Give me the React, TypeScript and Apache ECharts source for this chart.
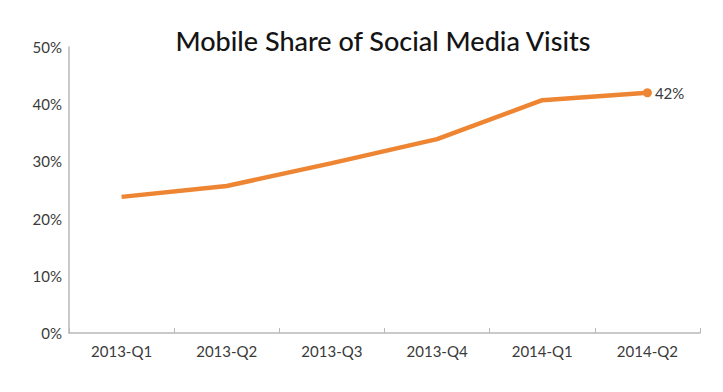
import React, { useEffect, useRef } from "react";
import * as echarts from "echarts";

const categories = ["2013-Q1", "2013-Q2", "2013-Q3", "2013-Q4", "2014-Q1", "2014-Q2"];
const mobileShare = [23.8, 25.7, 29.7, 33.9, 40.7, 42];
const lastLabel = "42%";

export default function App() {
  const ref = useRef<HTMLDivElement>(null);
  useEffect(() => {
    if (!ref.current) return;
    const chart = echarts.init(ref.current, null, { renderer: "svg" });
    const last = mobileShare.length - 1;
    chart.setOption({
      animation: false,
      backgroundColor: "#ffffff",
      title: {
        text: "Mobile Share of Social Media Visits",
        left: 378,
        textAlign: "center",
        top: 22,
        textStyle: { fontFamily: "Lato", fontSize: 27, fontWeight: 500, color: "#141414" },
      },
      grid: { left: 69, right: 23, top: 47, bottom: 59, containLabel: false },
      xAxis: {
        type: "category",
        data: categories,
        boundaryGap: true,
        axisLine: { show: true, lineStyle: { color: "#b8b8b8", width: 1.5 } },
        axisTick: { show: true, inside: true, length: 5, lineStyle: { color: "#b8b8b8" } },
        axisLabel: { color: "#3a3a3a", fontFamily: "Lato", fontSize: 15, margin: 10 },
        splitLine: { show: false },
      },
      yAxis: {
        type: "value",
        min: 0,
        max: 50,
        interval: 10,
        axisLine: { show: true, lineStyle: { color: "#b8b8b8", width: 1.5 } },
        axisTick: { show: false },
        splitLine: { show: false },
        axisLabel: { formatter: "{value}%", color: "#3a3a3a", fontFamily: "Lato", fontSize: 15, margin: 7 },
      },
      series: [
        {
          type: "line",
          data: mobileShare.map((v, i) =>
            i === last
              ? {
                  value: v,
                  symbol: "circle",
                  symbolSize: 9,
                  label: {
                    show: true,
                    position: "right",
                    distance: 3,
                    formatter: lastLabel,
                    color: "#3a3a3a",
                    fontFamily: "Lato",
                    fontSize: 15,
                  },
                }
              : { value: v, symbol: "none" }
          ),
          lineStyle: { color: "#ED8533", width: 4.5 },
          itemStyle: { color: "#ED8533" },
          showSymbol: true,
        },
      ],
    });
    return () => chart.dispose();
  }, []);
  return <div ref={ref} style={{ width: 723, height: 392, position: "absolute", left: 0, top: 0 }} />;
}
